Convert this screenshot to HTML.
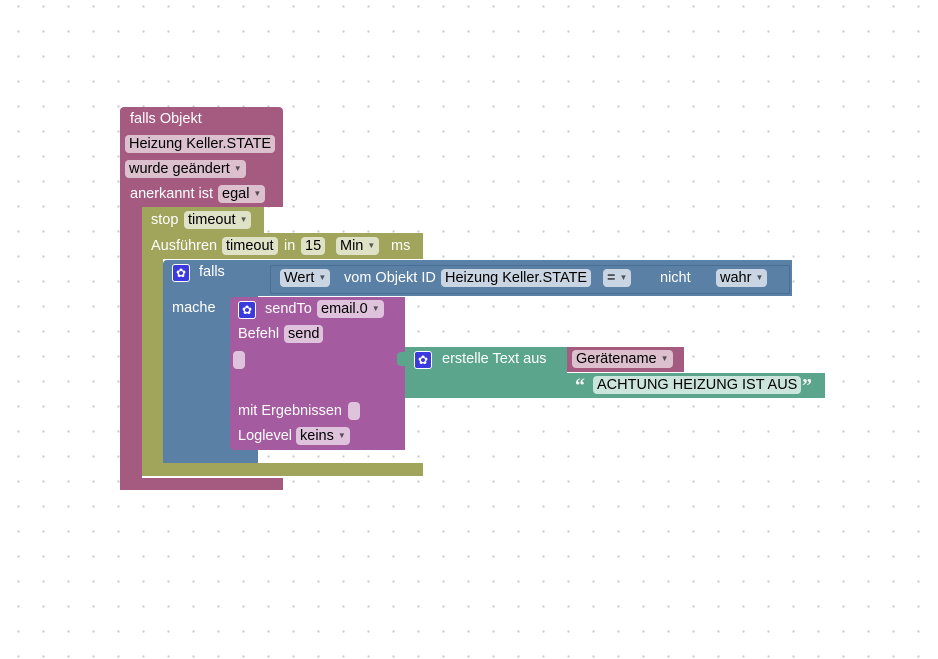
<!DOCTYPE html>
<html><head><meta charset="utf-8"><style>
body{margin:0;width:938px;height:659px;overflow:hidden;background:#fff;
background-image:radial-gradient(circle,#c8c8c8 1px,transparent 1.3px);background-size:25px 25px;background-position:6px -6px;
font-family:"Liberation Sans",Arial,sans-serif;font-size:14.5px;}
.b{position:absolute;}
.t{position:absolute;color:#fff;white-space:nowrap;line-height:18px;}
.f{position:absolute;border-radius:4px;color:#000;white-space:nowrap;line-height:18px;padding:0 4px;height:18px;}
.dd{font-size:8px;opacity:.6;margin-left:4px;vertical-align:2px;}
.pk{background:#A55B80}.pkf{background:#dcc0ce}
.gr{background:#A0A55B}.grf{background:#dfe2c6}
.bl{background:#5B80A5}.blf{background:#c9d5e2}
.pu{background:#A55BA0}.puf{background:#dfc2dc}
.te{background:#5BA58C}.tef{background:#cbe4dc}
.gear{position:absolute;width:16px;height:16px;background:#3a3adf;border:1px solid #fff;border-radius:3px;color:#fff;font-size:12px;line-height:16px;text-align:center;}
</style></head><body>
<div class="b pk" style="left:120px;top:107px;width:163px;height:100px;border-radius:4px 4px 0 0"></div>
<div class="b pk" style="left:120px;top:200px;width:22px;height:290px;border-radius:0 0 0 6px"></div>
<div class="b pk" style="left:120px;top:478px;width:163px;height:12px"></div>
<div class="t" style="left:130px;top:110px">falls Objekt</div>
<div class="f pkf" style="left:125px;top:135px">Heizung Keller.STATE</div>
<div class="f pkf" style="left:125px;top:160px">wurde geändert<span class="dd">▼</span></div>
<div class="t" style="left:130px;top:185px">anerkannt ist</div>
<div class="f pkf" style="left:218px;top:185px">egal<span class="dd">▼</span></div>
<div class="b gr" style="left:142px;top:207px;width:122px;height:27px"></div>
<div class="b gr" style="left:142px;top:233px;width:281px;height:26px"></div>
<div class="b gr" style="left:142px;top:233px;width:21px;height:243px;border-radius:0 0 0 6px"></div>
<div class="b gr" style="left:142px;top:463px;width:281px;height:13px"></div>
<div class="t" style="left:151px;top:211px">stop</div>
<div class="f grf" style="left:184px;top:211px">timeout<span class="dd">▼</span></div>
<div class="t" style="left:151px;top:237px">Ausführen</div>
<div class="f grf" style="left:222px;top:237px">timeout</div>
<div class="t" style="left:284px;top:237px">in</div>
<div class="f grf" style="left:301px;top:237px">15</div>
<div class="f grf" style="left:336px;top:237px">Min<span class="dd">▼</span></div>
<div class="t" style="left:391px;top:237px">ms</div>
<div class="b bl" style="left:163px;top:260px;width:95px;height:203px;border-radius:4px 0 0 0"></div>
<div class="b bl" style="left:258px;top:260px;width:534px;height:36px"></div>
<div class="b" style="left:270px;top:265px;width:518px;height:27px;border:1px solid #4a6f94;border-radius:2px"></div>
<div class="gear" style="left:172px;top:264px">✿</div>
<div class="t" style="left:199px;top:263px">falls</div>
<div class="f blf" style="left:280px;top:269px">Wert<span class="dd">▼</span></div>
<div class="t" style="left:344px;top:269px">vom Objekt ID</div>
<div class="f blf" style="left:441px;top:269px">Heizung Keller.STATE</div>
<div class="f blf" style="left:603px;top:269px">=<span class="dd">▼</span></div>
<div class="t" style="left:660px;top:269px">nicht</div>
<div class="f blf" style="left:716px;top:269px">wahr<span class="dd">▼</span></div>
<div class="t" style="left:172px;top:299px">mache</div>
<div class="b pu" style="left:230px;top:297px;width:175px;height:153px;border-radius:4px 0 0 4px"></div>
<div class="gear" style="left:238px;top:301px">✿</div>
<div class="t" style="left:265px;top:300px">sendTo</div>
<div class="f puf" style="left:317px;top:300px">email.0<span class="dd">▼</span></div>
<div class="t" style="left:238px;top:325px">Befehl</div>
<div class="f puf" style="left:284px;top:325px">send</div>
<div class="f puf" style="left:233px;top:351px;width:6px;padding:0 3px"></div>
<div class="t" style="left:238px;top:402px">mit Ergebnissen</div>
<div class="f puf" style="left:348px;top:402px;width:6px;padding:0 3px"></div>
<div class="t" style="left:238px;top:427px">Loglevel</div>
<div class="f puf" style="left:296px;top:427px">keins<span class="dd">▼</span></div>
<div class="b te" style="left:405px;top:347px;width:162px;height:51px"></div>
<div class="b te" style="left:567px;top:373px;width:258px;height:25px"></div>
<div class="b" style="left:397px;top:352px;width:8px;height:14px;background:#5BA58C;border-radius:4px 0 0 4px"></div>
<div class="gear" style="left:414px;top:351px">✿</div>
<div class="t" style="left:442px;top:350px">erstelle Text aus</div>
<div class="b pk" style="left:567px;top:347px;width:117px;height:25px"></div>
<div class="f pkf" style="left:572px;top:350px">Gerätename<span class="dd">▼</span></div>
<div class="t" style="left:575px;top:377px;font-weight:bold;font-size:20px;color:#f3f3f3;font-family:'Liberation Serif',serif">“</div>
<div class="f tef" style="left:593px;top:376px">ACHTUNG HEIZUNG IST AUS</div>
<div class="t" style="left:802px;top:377px;font-weight:bold;font-size:20px;color:#f3f3f3;font-family:'Liberation Serif',serif">”</div>
</body></html>
